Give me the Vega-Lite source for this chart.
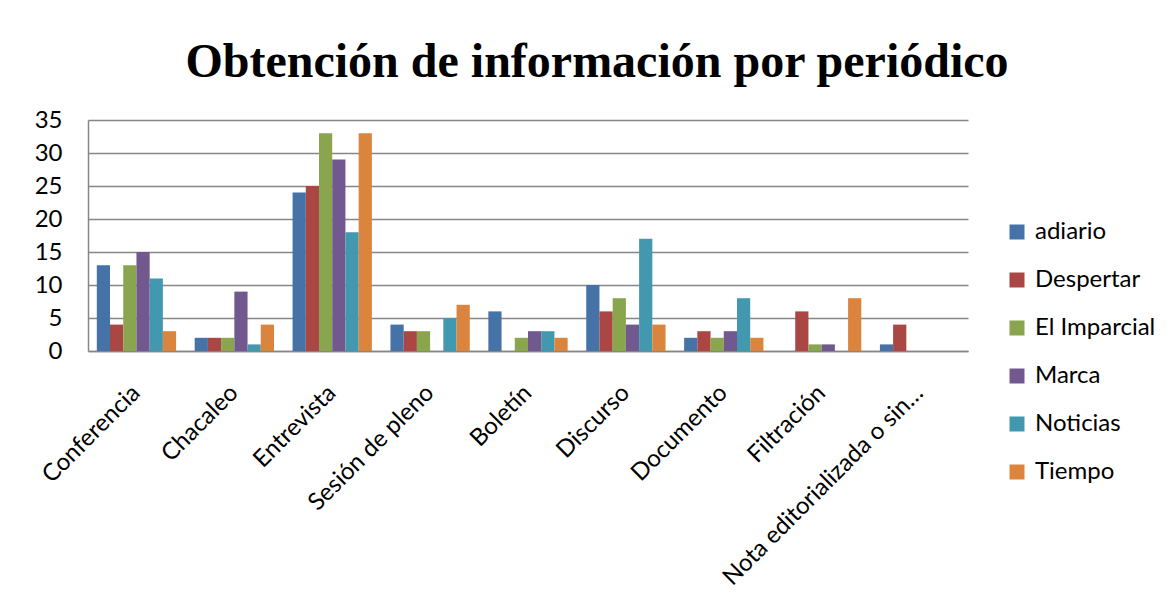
{
  "$schema": "https://vega.github.io/schema/vega-lite/v6.json",
  "width": 880,
  "height": 231,
  "autosize": {"type": "none"},
  "padding": {"left": 88, "top": 120, "right": 202, "bottom": 256},
  "background": "white",
  "title": {
    "text": "Obtención de información por periódico",
    "font": "Liberation Serif",
    "fontSize": 48,
    "fontWeight": "bold",
    "color": "#000000",
    "anchor": "middle",
    "dx": 69,
    "offset": 21
  },
  "data": {
    "values": [
      {"cat": "Conferencia", "s": "adiario", "v": 13},
      {"cat": "Conferencia", "s": "Despertar", "v": 4},
      {"cat": "Conferencia", "s": "El Imparcial", "v": 13},
      {"cat": "Conferencia", "s": "Marca", "v": 15},
      {"cat": "Conferencia", "s": "Noticias", "v": 11},
      {"cat": "Conferencia", "s": "Tiempo", "v": 3},
      {"cat": "Chacaleo", "s": "adiario", "v": 2},
      {"cat": "Chacaleo", "s": "Despertar", "v": 2},
      {"cat": "Chacaleo", "s": "El Imparcial", "v": 2},
      {"cat": "Chacaleo", "s": "Marca", "v": 9},
      {"cat": "Chacaleo", "s": "Noticias", "v": 1},
      {"cat": "Chacaleo", "s": "Tiempo", "v": 4},
      {"cat": "Entrevista", "s": "adiario", "v": 24},
      {"cat": "Entrevista", "s": "Despertar", "v": 25},
      {"cat": "Entrevista", "s": "El Imparcial", "v": 33},
      {"cat": "Entrevista", "s": "Marca", "v": 29},
      {"cat": "Entrevista", "s": "Noticias", "v": 18},
      {"cat": "Entrevista", "s": "Tiempo", "v": 33},
      {"cat": "Sesión de pleno", "s": "adiario", "v": 4},
      {"cat": "Sesión de pleno", "s": "Despertar", "v": 3},
      {"cat": "Sesión de pleno", "s": "El Imparcial", "v": 3},
      {"cat": "Sesión de pleno", "s": "Marca", "v": 0},
      {"cat": "Sesión de pleno", "s": "Noticias", "v": 5},
      {"cat": "Sesión de pleno", "s": "Tiempo", "v": 7},
      {"cat": "Boletín", "s": "adiario", "v": 6},
      {"cat": "Boletín", "s": "Despertar", "v": 0},
      {"cat": "Boletín", "s": "El Imparcial", "v": 2},
      {"cat": "Boletín", "s": "Marca", "v": 3},
      {"cat": "Boletín", "s": "Noticias", "v": 3},
      {"cat": "Boletín", "s": "Tiempo", "v": 2},
      {"cat": "Discurso", "s": "adiario", "v": 10},
      {"cat": "Discurso", "s": "Despertar", "v": 6},
      {"cat": "Discurso", "s": "El Imparcial", "v": 8},
      {"cat": "Discurso", "s": "Marca", "v": 4},
      {"cat": "Discurso", "s": "Noticias", "v": 17},
      {"cat": "Discurso", "s": "Tiempo", "v": 4},
      {"cat": "Documento", "s": "adiario", "v": 2},
      {"cat": "Documento", "s": "Despertar", "v": 3},
      {"cat": "Documento", "s": "El Imparcial", "v": 2},
      {"cat": "Documento", "s": "Marca", "v": 3},
      {"cat": "Documento", "s": "Noticias", "v": 8},
      {"cat": "Documento", "s": "Tiempo", "v": 2},
      {"cat": "Filtración", "s": "adiario", "v": 0},
      {"cat": "Filtración", "s": "Despertar", "v": 6},
      {"cat": "Filtración", "s": "El Imparcial", "v": 1},
      {"cat": "Filtración", "s": "Marca", "v": 1},
      {"cat": "Filtración", "s": "Noticias", "v": 0},
      {"cat": "Filtración", "s": "Tiempo", "v": 8},
      {"cat": "Nota editorializada o sin…", "s": "adiario", "v": 1},
      {"cat": "Nota editorializada o sin…", "s": "Despertar", "v": 4},
      {"cat": "Nota editorializada o sin…", "s": "El Imparcial", "v": 0},
      {"cat": "Nota editorializada o sin…", "s": "Marca", "v": 0},
      {"cat": "Nota editorializada o sin…", "s": "Noticias", "v": 0},
      {"cat": "Nota editorializada o sin…", "s": "Tiempo", "v": 0}
    ]
  },
  "mark": {"type": "bar"},
  "encoding": {
    "x": {
      "field": "cat",
      "type": "nominal",
      "sort": null,
      "title": null,
      "scale": {"paddingInner": 0.19, "paddingOuter": 0.09},
      "axis": {
        "labelAngle": -45,
        "labelAlign": "right",
        "labelBaseline": "middle",
        "labelFont": "Lato",
        "labelFontSize": 24,
        "labelColor": "#000000",
        "labelPadding": 38,
        "labelLimit": 400,
        "ticks": false,
        "domainColor": "#868686",
        "domainWidth": 1.5
      }
    },
    "xOffset": {
      "field": "s",
      "type": "nominal",
      "sort": ["adiario", "Despertar", "El Imparcial", "Marca", "Noticias", "Tiempo"],
      "scale": {"paddingInner": 0, "paddingOuter": 0}
    },
    "y": {
      "field": "v",
      "type": "quantitative",
      "title": null,
      "scale": {"domain": [0, 35], "nice": false},
      "axis": {
        "values": [0, 5, 10, 15, 20, 25, 30, 35],
        "labelFont": "Lato",
        "labelFontSize": 24,
        "labelColor": "#000000",
        "labelPadding": 26,
        "ticks": false,
        "domainColor": "#868686",
        "domainWidth": 1.5,
        "gridColor": "#868686",
        "gridWidth": 1.5
      }
    },
    "color": {
      "field": "s",
      "type": "nominal",
      "sort": ["adiario", "Despertar", "El Imparcial", "Marca", "Noticias", "Tiempo"],
      "scale": {
        "domain": ["adiario", "Despertar", "El Imparcial", "Marca", "Noticias", "Tiempo"],
        "range": ["#4572A7", "#AA4643", "#89A54E", "#71588F", "#4198AF", "#DB843D"]
      },
      "legend": {
        "title": null,
        "orient": "none",
        "legendX": 917,
        "legendY": 100,
        "symbolType": "square",
        "symbolSize": 225,
        "symbolStrokeWidth": 0,
        "labelFont": "Lato",
        "labelFontSize": 24,
        "labelColor": "#000000",
        "labelOffset": 6,
        "rowPadding": 24
      }
    }
  },
  "config": {
    "view": {"stroke": null}
  }
}
